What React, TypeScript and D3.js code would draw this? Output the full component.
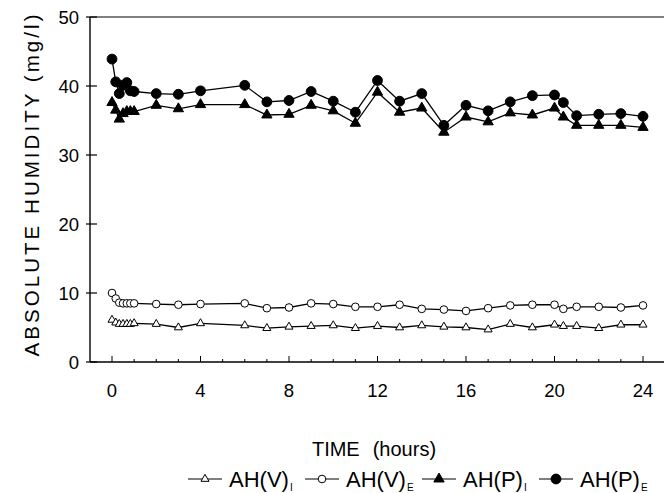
import * as d3 from 'd3';

// sampling times (hours)
const hours = [0, 0.17, 0.33, 0.5, 0.67, 0.83, 1, 2, 3, 4, 6, 7, 8, 9, 10, 11, 12, 13, 14, 15, 16, 17, 18, 19, 20, 20.4, 21, 22, 23, 24];

// absolute humidity (mg/l)
const ahVI = [6.1, 5.7, 5.5, 5.5, 5.5, 5.5, 5.6, 5.5, 5.0, 5.6, 5.3, 4.9, 5.1, 5.2, 5.3, 4.9, 5.2, 5.0, 5.3, 5.1, 5.0, 4.7, 5.5, 5.0, 5.4, 5.2, 5.2, 4.9, 5.4, 5.4];
const ahVE = [10.0, 9.2, 8.6, 8.5, 8.5, 8.5, 8.5, 8.4, 8.3, 8.4, 8.5, 7.8, 7.9, 8.5, 8.4, 8.0, 8.0, 8.3, 7.7, 7.6, 7.4, 7.8, 8.2, 8.3, 8.3, 7.7, 8.0, 8.0, 7.9, 8.2];
const ahPI = [37.6, 36.5, 35.2, 36.0, 36.3, 36.3, 36.3, 37.2, 36.7, 37.3, 37.3, 35.8, 35.9, 37.2, 36.4, 34.6, 39.1, 36.2, 36.8, 33.3, 35.5, 34.8, 36.1, 35.8, 36.8, 35.5, 34.3, 34.3, 34.3, 34.0];
const ahPE = [43.9, 40.6, 38.9, 40.1, 40.5, 39.3, 39.2, 38.9, 38.8, 39.3, 40.1, 37.7, 37.9, 39.2, 37.8, 36.2, 40.8, 37.8, 38.9, 34.3, 37.2, 36.4, 37.7, 38.6, 38.7, 37.6, 35.7, 35.9, 36.0, 35.6];

const xTicks = [0, 4, 8, 12, 16, 20, 24];
const yTicks = [0, 10, 20, 30, 40, 50];

type Mark = 'triangle' | 'circle';
const series: { name: string; sub: string; values: number[]; mark: Mark; filled: boolean }[] = [
  { name: 'AH(V)', sub: 'I', values: ahVI, mark: 'triangle', filled: false },
  { name: 'AH(V)', sub: 'E', values: ahVE, mark: 'circle', filled: false },
  { name: 'AH(P)', sub: 'I', values: ahPI, mark: 'triangle', filled: true },
  { name: 'AH(P)', sub: 'E', values: ahPE, mark: 'circle', filled: true },
];

const W = 664;
const H = 493;
const FONT = 'Arial, "Liberation Sans", Helvetica, sans-serif';

const x = d3.scaleLinear().domain([0, 24]).range([112, 643]);
const y = d3.scaleLinear().domain([0, 50]).range([362, 17]);
const axisLeft = 90;
const axisRight = 664;

function markerPath(mark: Mark, filled: boolean) {
  const size = mark === 'triangle' ? (filled ? 46 : 28) : filled ? 76 : 46;
  const type = mark === 'triangle' ? d3.symbolTriangle : d3.symbolCircle;
  return d3.symbol().type(type).size(size)() as string;
}

export default function App() {
  const line = d3
    .line<number>()
    .x((_, i) => x(hours[i]))
    .y((d) => y(d));

  const minor = d3.range(0, 25);

  return (
    <svg width={W} height={H} style={{ position: 'absolute', left: 0, top: 0, background: '#fff' }} fontFamily={FONT}>
      {/* frame */}
      <line x1={axisLeft} x2={axisRight} y1={y(0)} y2={y(0)} stroke="#000" strokeWidth={1.4} />
      <line x1={axisLeft} x2={axisRight} y1={y(50)} y2={y(50)} stroke="#000" strokeWidth={1.2} />
      <line x1={axisLeft} x2={axisLeft} y1={y(0)} y2={y(50)} stroke="#000" strokeWidth={1.4} />

      {/* y ticks */}
      {yTicks.map((t) => (
        <g key={t}>
          <line x1={axisLeft - 4} x2={axisLeft + 7} y1={y(t)} y2={y(t)} stroke="#000" strokeWidth={1.2} />
          <text x={79} y={y(t)} dy="0.36em" textAnchor="end" fontSize={18.5}>
            {t}
          </text>
        </g>
      ))}

      {/* x ticks */}
      {minor.map((t) => (
        <line key={t} x1={x(t)} x2={x(t)} y1={y(0)} y2={y(0) - (t % 4 === 0 ? 6 : 3)} stroke="#000" strokeWidth={1} />
      ))}
      {xTicks.map((t) => (
        <text key={t} x={x(t)} y={397} textAnchor="middle" fontSize={18.5}>
          {t}
        </text>
      ))}

      {/* axis titles */}
      <text x={374} y={456} textAnchor="middle" fontSize={20}>
        TIME<tspan dx={13}>(hours)</tspan>
      </text>
      <text
        transform={`translate(39,${(y(0) + y(50)) / 2 - 4}) rotate(-90)`}
        textAnchor="middle"
        fontSize={20.5}
        textLength={342}
        lengthAdjust="spacing"
      >
        ABSOLUTE HUMIDITY (mg/l)
      </text>

      {/* series */}
      {series.map((s, si) => (
        <g key={si}>
          <path d={line(s.values) as string} fill="none" stroke="#000" strokeWidth={1.3} />
          {s.values.map((v, i) => (
            <path
              key={i}
              d={markerPath(s.mark, s.filled)}
              transform={`translate(${x(hours[i])},${y(v)})`}
              fill={s.filled ? '#000' : '#fff'}
              stroke="#000"
              strokeWidth={1}
            />
          ))}
        </g>
      ))}

      {/* legend */}
      {series.map((s, i) => {
        const x0 = 188 + i * 117;
        const ly = 479;
        return (
          <g key={i}>
            <line x1={x0} x2={x0 + 34} y1={ly} y2={ly} stroke="#000" strokeWidth={1.2} />
            <path
              d={markerPath(s.mark, s.filled)}
              transform={`translate(${x0 + 17},${ly})`}
              fill={s.filled ? '#000' : '#fff'}
              stroke="#000"
              strokeWidth={1}
            />
            <text x={x0 + 41} y={ly + 8} fontSize={22}>
              {s.name}
              <tspan fontSize={10} dx={1} dy={4}>
                {s.sub}
              </tspan>
            </text>
          </g>
        );
      })}
    </svg>
  );
}
